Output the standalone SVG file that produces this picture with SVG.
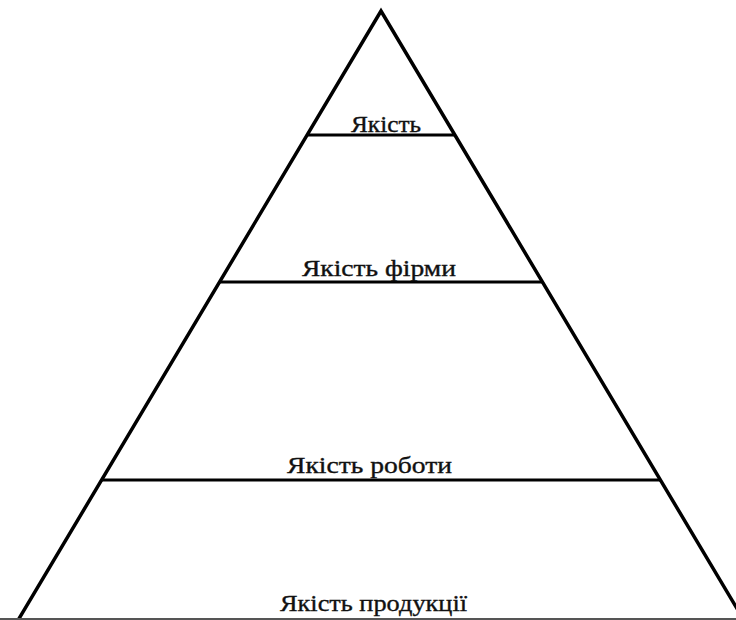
<svg xmlns="http://www.w3.org/2000/svg" width="736" height="620" viewBox="0 0 736 620">
  <style>
    .edge { stroke: #000; stroke-width: 3.5; fill: none; stroke-linecap: butt; }
    .level { stroke: #000; stroke-width: 3; fill: none; }
    .lbl { font-family: "Liberation Serif", "Times New Roman", serif; font-size: 23px; fill: #111; stroke: #111; stroke-width: 0.35; text-anchor: start; }
  </style>
  <rect x="0" y="0" width="736" height="620" fill="#fff"/>
  <g id="connectors">
    <polyline class="edge" points="17,622 381,11 745,622"/>
    <line x1="0" y1="619" x2="736" y2="619" stroke="#555" stroke-width="2"/>
  </g>
  <g id="level-quality">
    <line class="level" x1="307" y1="135" x2="455" y2="135"/>
    <text class="lbl" x="351" y="132" textLength="70" lengthAdjust="spacingAndGlyphs">Якість</text>
  </g>
  <g id="level-firm">
    <line class="level" x1="219" y1="282" x2="543" y2="282"/>
    <text class="lbl" x="302" y="276" textLength="154" lengthAdjust="spacingAndGlyphs">Якість фірми</text>
  </g>
  <g id="level-work">
    <line class="level" x1="101" y1="480" x2="660" y2="480"/>
    <text class="lbl" x="287" y="473" textLength="165" lengthAdjust="spacingAndGlyphs">Якість роботи</text>
  </g>
  <g id="level-product">
    <text class="lbl" x="280" y="611" textLength="187" lengthAdjust="spacingAndGlyphs">Якість продукції</text>
  </g>
</svg>
